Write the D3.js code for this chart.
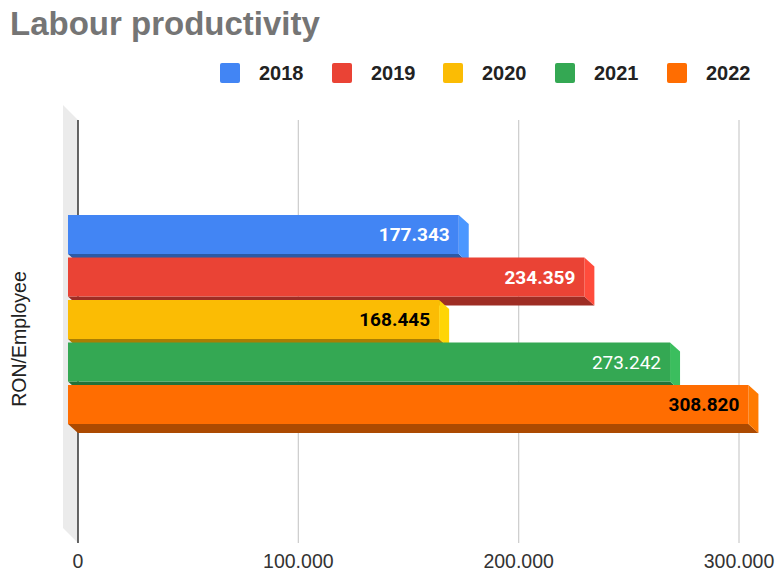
<!DOCTYPE html>
<html>
<head>
<meta charset="utf-8">
<script src="https://cdn.jsdelivr.net/npm/d3@7"></script>
<style>
  body { margin: 0; background: #fff; }
  svg { display: block; }
</style>
</head>
<body>
<svg class="chart" width="778" height="573"></svg>
<script>

// Chart data.
var years = ["2018", "2019", "2020", "2021", "2022"];
var productivity = [177343, 234359, 168445, 273242, 308820];
var colors = ["#4285f4", "#ea4335", "#fbbc04", "#34a853", "#ff6d01"];
var labelColors = ["#fff", "#fff", "#000", "#fff", "#000"];
var labelWeights = ["bold", "bold", "bold", "normal", "bold"];
var ticks = [0, 100000, 200000, 300000];

// Depth of the 3D bars and of the side wall.
var dx = 10, dy = 9, wall = 15;

var svg = d3.select(".chart");

// Back wall scale.
var x = d3.scaleLinear()
    .domain([0, 300000])
    .range([78, 739]);

// Front faces of the bars.
var y = d3.scaleBand()
    .domain(years)
    .range([215, 427.5]);

var barHeight = 39;
var wallTop = 120, wallBottom = 543;

function fmt(v) {
  return d3.format(",")(v).replace(/,/g, ".");
}

// Title.
svg.append("text")
    .attr("x", 10)
    .attr("y", 35)
    .style("font-family", "Arial, 'Liberation Sans', sans-serif")
    .style("font-weight", "bold")
    .style("font-size", "33px")
    .attr("fill", "#757575")
    .text("Labour productivity");

// Legend.
var legendX = [220, 332, 443, 555, 667];
var legend = svg.selectAll(".legend")
    .data(years)
    .enter().append("g")
      .attr("class", "legend")
      .attr("transform", function(d, i) { return "translate(" + legendX[i] + ",63)"; });

legend.append("rect")
    .attr("width", 20)
    .attr("height", 20)
    .attr("rx", 2)
    .attr("fill", function(d, i) { return colors[i]; });

legend.append("text")
    .attr("x", 39)
    .attr("y", 17)
    .style("font-family", "Arial, 'Liberation Sans', sans-serif")
    .style("font-weight", "bold")
    .style("font-size", "20px")
    .attr("fill", "#222")
    .text(function(d) { return d; });

// Side wall.
svg.append("polygon")
    .attr("points", [[78 - wall, wallTop - wall], [78, wallTop], [78, wallBottom], [78 - wall, wallBottom - wall]].join(" "))
    .attr("fill", "#ebebeb");

// Grid lines on the back wall.
svg.selectAll(".grid")
    .data(ticks)
    .enter().append("line")
      .attr("class", "grid")
      .attr("x1", function(d) { return x(d); })
      .attr("x2", function(d) { return x(d); })
      .attr("y1", wallTop)
      .attr("y2", wallBottom)
      .attr("stroke", function(d) { return d === 0 ? "#333" : "#ccc"; })
      .attr("stroke-width", function(d) { return d === 0 ? 1.5 : 1.2; });

// Tick labels.
svg.selectAll(".tick")
    .data(ticks)
    .enter().append("text")
      .attr("class", "tick")
      .attr("x", function(d) { return x(d); })
      .attr("y", 568)
      .attr("text-anchor", "middle")
      .style("font-family", "Arial, 'Liberation Sans', sans-serif")
      .style("font-size", "19.5px")
      .attr("fill", "#333")
      .text(function(d) { return fmt(d); });

// Axis title.
svg.append("text")
    .attr("transform", "translate(26,339) rotate(-90)")
    .attr("text-anchor", "middle")
    .style("font-family", "Arial, 'Liberation Sans', sans-serif")
    .style("font-size", "19.5px")
    .attr("fill", "#222")
    .text("RON/Employee");

// Bars.
var bars = svg.selectAll(".bar")
    .data(productivity)
    .enter().append("g")
      .attr("class", "bar");

bars.each(function(d, i) {
  var g = d3.select(this);
  var x0 = x(0) - dx, x1 = x(d) - dx;
  var y0 = y(years[i]), y1 = y0 + barHeight;
  var c = d3.color(colors[i]);

  // Bottom face.
  g.append("polygon")
      .attr("points", [[x0, y1], [x1, y1], [x1 + dx, y1 + dy], [x0 + dx, y1 + dy]].join(" "))
      .attr("fill", c.darker(1.1));

  // Right face.
  g.append("polygon")
      .attr("points", [[x1, y0], [x1 + dx, y0 + dy], [x1 + dx, y1 + dy], [x1, y1]].join(" "))
      .attr("fill", c.brighter(0.35));

  // Front face.
  g.append("rect")
      .attr("x", x0)
      .attr("y", y0)
      .attr("width", x1 - x0)
      .attr("height", barHeight)
      .attr("fill", colors[i]);

  g.append("text")
      .attr("x", x1 - 9)
      .attr("y", y0 + barHeight / 2)
      .attr("dy", "0.36em")
      .attr("text-anchor", "end")
      .style("font-family", "Roboto, Arial, sans-serif")
      .style("font-weight", labelWeights[i])
      .style("font-size", "19px")
      .attr("fill", labelColors[i])
      .text(fmt(d));
});
</script>
</body>
</html>
